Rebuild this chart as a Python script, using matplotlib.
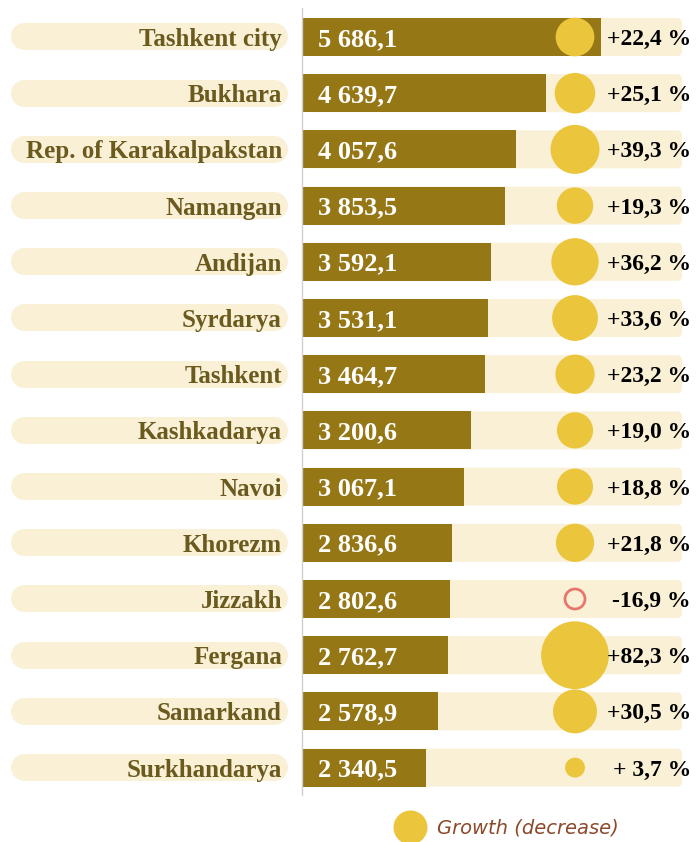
import numpy as np
import matplotlib.pyplot as plt
from matplotlib.lines import Line2D
from matplotlib.patches import FancyBboxPatch

# --- données ---
regions = ['Tashkent city', 'Bukhara', 'Rep. of Karakalpakstan', 'Namangan',
           'Andijan', 'Syrdarya', 'Tashkent', 'Kashkadarya', 'Navoi',
           'Khorezm', 'Jizzakh', 'Fergana', 'Samarkand', 'Surkhandarya']
values = [5686.1, 4639.7, 4057.6, 3853.5, 3592.1, 3531.1, 3464.7,
          3200.6, 3067.1, 2836.6, 2802.6, 2762.7, 2578.9, 2340.5]
value_labels = ['5 686,1', '4 639,7', '4 057,6', '3 853,5', '3 592,1',
                '3 531,1', '3 464,7', '3 200,6', '3 067,1', '2 836,6',
                '2 802,6', '2 762,7', '2 578,9', '2 340,5']
growth = [22.4, 25.1, 39.3, 19.3, 36.2, 33.6, 23.2,
          19.0, 18.8, 21.8, -16.9, 82.3, 30.5, 3.7]
growth_labels = ['+22,4 %', '+25,1 %', '+39,3 %', '+19,3 %', '+36,2 %',
                 '+33,6 %', '+23,2 %', '+19,0 %', '+18,8 %', '+21,8 %',
                 '-16,9 %', '+82,3 %', '+30,5 %', '+ 3,7 %']

# --- couleurs ---
BAR = '#957716'
BG = '#FAF0D6'
GOLD = '#EBC63C'
LABEL = '#6B5A1E'
NEG = '#E8766A'

W, H = 698, 842
DPI = 100
X0 = 303          # pixel ou commence la barre
PX_PER_UNIT = 0.0524
Y0 = 37           # centre de la premiere ligne (px)
ROW = 56.2        # pas entre lignes (px)

def px2x(px):
    return (px - X0) / PX_PER_UNIT

def py2y(py):
    return (py - Y0) / ROW

fig = plt.figure(figsize=(W / DPI, H / DPI), dpi=DPI)
ax = fig.add_axes([0, 0, 1, 1])
ax.set_xlim(px2x(0), px2x(W))
ax.set_ylim(py2y(H), py2y(0))
ax.axis('off')

y = np.arange(len(regions))
bar_h = 38 / ROW

# fonds clairs (coin arrondi a droite)
bg_end = px2x(682)
r_px = 5
for yi in y:
    p = FancyBboxPatch((0, yi - bar_h / 2), bg_end, bar_h,
                       boxstyle='round,pad=0,rounding_size=%f' % (r_px / PX_PER_UNIT),
                       mutation_aspect=(1 / ROW) / (1 / PX_PER_UNIT),
                       fc=BG, ec='none', zorder=1)
    ax.add_patch(p)

ax.barh(y, values, height=bar_h, left=0, color=BAR, zorder=2)

# axe vertical
ax.plot([px2x(302), px2x(302)], [py2y(8), py2y(795)], color='#cfcfcf', lw=1, zorder=3)

# pastilles des etiquettes
pill_h = 27
for yi in y:
    ax.plot([px2x(10 + pill_h / 2), px2x(288 - pill_h / 2)], [yi - 0.01, yi - 0.01],
            color=BG, lw=pill_h * 0.72, solid_capstyle='round', zorder=1)

for yi, name in zip(y, regions):
    ax.text(px2x(282), yi, name, ha='right', va='center_baseline', fontsize=18,
            family='Liberation Serif', weight='bold', color=LABEL, zorder=4)

for yi, lab in zip(y, value_labels):
    ax.text(px2x(318), yi, lab, ha='left', va='center_baseline', fontsize=19,
            family='Liberation Serif', weight='bold', color='white', zorder=4)

# cercles de croissance (aire ~ valeur)
g = np.array(growth)
diam_px = 7 + 6.7 * np.sqrt(np.abs(g))
sizes = (diam_px * 0.72) ** 2
cx = px2x(575)
pos = g > 0
ax.scatter(np.full(pos.sum(), cx), y[pos], s=sizes[pos], color=GOLD,
           edgecolors='none', zorder=5)
ax.scatter(np.full((~pos).sum(), cx), y[~pos], s=(20 * 0.72) ** 2,
           facecolors='none', edgecolors=NEG, linewidths=2, zorder=5)

for yi, lab in zip(y, growth_labels):
    ax.text(px2x(691), yi, lab, ha='right', va='center_baseline', fontsize=17,
            family='Liberation Serif', weight='bold', color='black', zorder=6)

# legende
handle = Line2D([], [], marker='o', linestyle='none', markersize=34 * 0.72,
                markerfacecolor=GOLD, markeredgecolor='none')
fig.legend(handles=[handle], labels=['Growth (decrease)'], loc='center',
           bbox_to_anchor=(505 / W, 1 - 828 / H), frameon=False,
           handletextpad=0.4, labelcolor='#8B4A2B',
           prop={'family': 'DejaVu Sans', 'style': 'italic', 'size': 14})

fig.savefig('out.png', dpi=DPI, facecolor='white')
